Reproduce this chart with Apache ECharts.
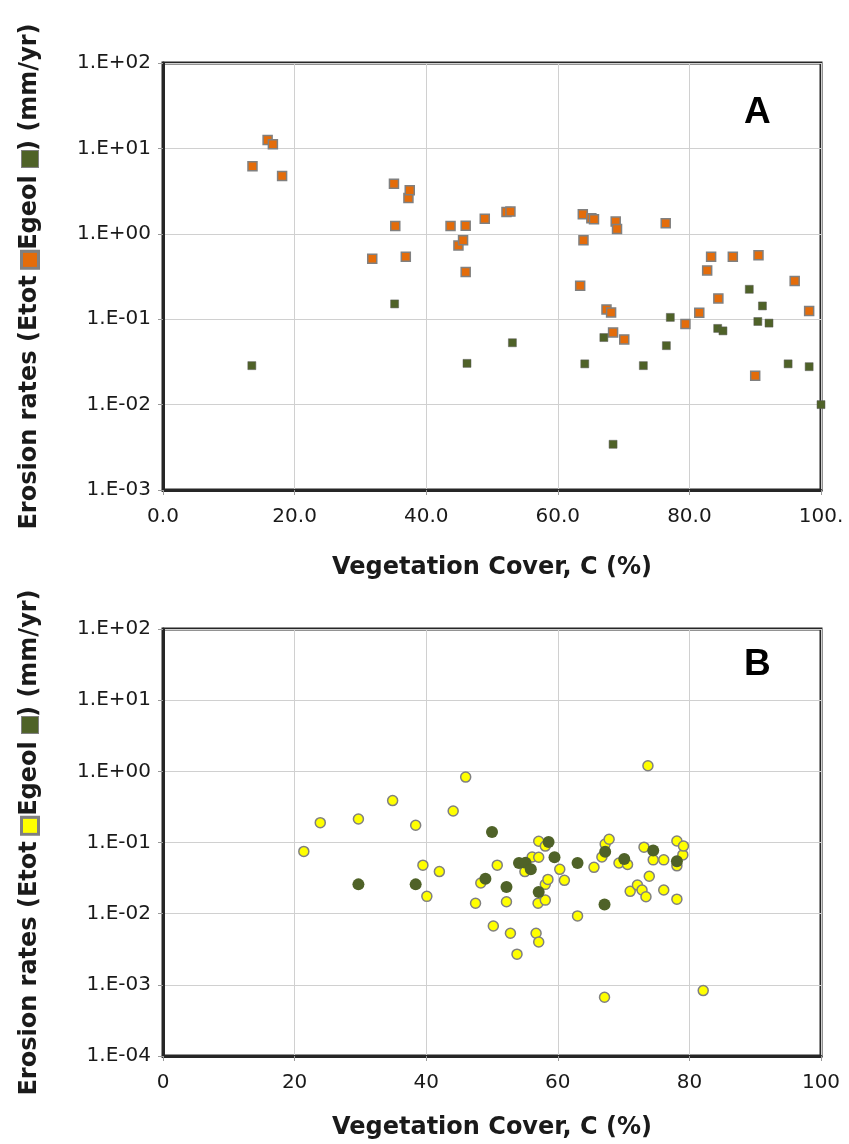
<!DOCTYPE html>
<html>
<head>
<meta charset="utf-8">
<script src="https://cdn.jsdelivr.net/npm/echarts@6/dist/echarts.min.js"></script>
<style>
    html, body { margin: 0; padding: 0; background: #fff; }
    #main { width: 849px; height: 1144px; }
</style>
</head>
<body>
<div id="main"></div>
<script>
// panel A : vegetation cover (%) vs erosion rate (mm/yr)
var etotA = [
    [13.6, 6.2], [15.9, 12.5], [16.7, 11.2], [18.1, 4.75], [31.8, 0.51], [35.1, 3.86],
    [35.3, 1.23], [36.9, 0.54], [37.3, 2.63], [37.5, 3.23], [43.7, 1.23], [44.9, 0.73],
    [45.6, 0.84], [46.0, 1.24], [46.0, 0.357], [48.9, 1.50], [52.2, 1.80], [52.8, 1.82],
    [63.4, 0.247], [63.8, 1.69], [63.9, 0.84], [65.1, 1.52], [65.5, 1.48], [67.4, 0.130],
    [68.1, 0.120], [68.4, 0.070], [68.8, 1.39], [69.0, 1.14], [70.1, 0.058], [76.4, 1.33],
    [79.4, 0.088], [81.5, 0.119], [82.7, 0.373], [83.3, 0.54], [84.4, 0.175], [86.6, 0.54],
    [90.0, 0.0218], [90.5, 0.56], [96.0, 0.28], [98.2, 0.125]
];
var egeolA = [
    [13.5, 0.0286], [35.2, 0.151], [46.2, 0.0304], [53.1, 0.053], [64.1, 0.030], [67.0, 0.061],
    [68.4, 0.00343], [73.0, 0.0286], [76.5, 0.049], [77.1, 0.105], [84.3, 0.078], [85.1, 0.073],
    [89.1, 0.224], [90.4, 0.094], [91.1, 0.143], [92.1, 0.090], [95.0, 0.030], [98.2, 0.0278],
    [100, 0.010]
];
// panel B
var etotB = [
    [21.4, 0.075], [23.9, 0.19], [29.7, 0.214], [34.9, 0.388], [38.4, 0.175], [39.5, 0.048],
    [40.1, 0.0175], [42.0, 0.039], [44.1, 0.277], [46.0, 0.83], [47.5, 0.014], [48.3, 0.027],
    [50.2, 0.0067], [50.8, 0.048], [52.2, 0.0147], [52.8, 0.0053], [53.8, 0.0027], [55.0, 0.039],
    [56.1, 0.0625], [56.7, 0.0053], [57.0, 0.014], [57.1, 0.104], [57.1, 0.062], [57.1, 0.0040],
    [58.1, 0.089], [58.1, 0.0258], [58.1, 0.0155], [58.5, 0.0303], [60.3, 0.042], [61.0, 0.0294],
    [63.0, 0.0093], [65.5, 0.0448], [66.7, 0.0625], [67.1, 0.00067], [67.2, 0.095], [67.8, 0.111],
    [69.3, 0.0515], [70.6, 0.049], [71.0, 0.0206], [72.1, 0.0252], [72.8, 0.0215], [73.1, 0.086],
    [73.4, 0.0173], [73.7, 1.2], [73.9, 0.0335], [74.5, 0.057], [76.1, 0.057], [76.1, 0.0215],
    [78.1, 0.105], [78.1, 0.047], [78.1, 0.016], [79.0, 0.067], [79.1, 0.089], [82.1, 0.00083]
];
var egeolB = [
    [29.7, 0.0258], [38.4, 0.0258], [49.0, 0.031], [50.0, 0.14], [52.2, 0.0237], [54.1, 0.0515],
    [55.1, 0.052], [55.9, 0.042], [57.1, 0.0201], [58.6, 0.102], [59.5, 0.062], [63.0, 0.0515],
    [67.1, 0.0135], [67.2, 0.074], [70.1, 0.0586], [74.5, 0.077], [78.1, 0.0545]
];
var xTicksA = ['0.0', '20.0', '40.0', '60.0', '80.0', '100.'];
var xTicksB = ['0', '20', '40', '60', '80', '100'];
var panelLetters = ['A', 'B'];

var FONT = 'DejaVu Sans';
var TXT = '#1a1a1a';
var ORANGE = '#E46C0A', GREEN = '#4F6228', YELLOW = '#FFFF00', EDGE = '#808080';

function expLabel(v) {
    var e = Math.round(Math.log10(v));
    var a = Math.abs(e);
    return '1.E' + (e < 0 ? '-' : '+') + (a < 10 ? '0' : '') + a;
}

function makeX(idx, ticks, gap) {
    return {
        gridIndex: idx, type: 'value', min: 0, max: 100, interval: 20,
        name: 'Vegetation Cover, C (%)', nameLocation: 'middle', nameGap: gap,
        nameTextStyle: { fontFamily: FONT, fontWeight: 'bold', fontSize: 24, color: TXT },
        axisLine: { show: true, onZero: false, lineStyle: { color: '#262626', width: 3 } },
        axisTick: { show: true, length: 5, lineStyle: { color: '#999' } },
        axisLabel: {
            fontFamily: FONT, fontSize: 20, color: TXT, margin: 17,
            formatter: function (v) { return ticks[Math.round(v / 20)]; }
        },
        splitLine: { show: true, lineStyle: { color: '#d0d0d0', width: 1 } }
    };
}

function makeY(idx, min, sq) {
    return {
        gridIndex: idx, type: 'log', logBase: 10, min: min, max: 100, interval: 1,
        name: 'Erosion rates (Etot {e| }{sp| }Egeol {g| }) (mm/yr)',
        nameLocation: 'middle', nameGap: 121,
        nameTextStyle: {
            fontFamily: FONT, fontWeight: 'bold', fontSize: 24, color: TXT,
            rich: {
                sp: { width: 3 },
                e: { width: 14, height: 14, backgroundColor: sq, borderColor: EDGE, borderWidth: 3 },
                g: { width: 16, height: 16, backgroundColor: GREEN, borderColor: EDGE, borderWidth: 1 }
            }
        },
        axisLine: { show: true, lineStyle: { color: '#262626', width: 3 } },
        axisTick: { show: true, length: 5, lineStyle: { color: '#999' } },
        minorTick: { show: false },
        axisLabel: { fontFamily: FONT, fontSize: 20, color: TXT, margin: 12, formatter: expLabel },
        splitLine: { show: true, lineStyle: { color: '#d0d0d0', width: 1 } }
    };
}

function scatter(idx, data, symbol, size, fill, border, bw) {
    return {
        type: 'scatter', xAxisIndex: idx, yAxisIndex: idx, data: data,
        symbol: symbol, symbolSize: size, silent: true,
        itemStyle: { color: fill, borderColor: border, borderWidth: bw, opacity: 1 }
    };
}

var chart = echarts.init(document.getElementById('main'));
chart.setOption({
    animation: false,
    backgroundColor: '#fff',
    grid: [
        { left: 163, top: 63, width: 658, height: 427, show: true, borderColor: '#262626', borderWidth: 3, backgroundColor: 'transparent' },
        { left: 163, top: 629, width: 658, height: 427, show: true, borderColor: '#262626', borderWidth: 3, backgroundColor: 'transparent' }
    ],
    xAxis: [makeX(0, xTicksA, 66), makeX(1, xTicksB, 60)],
    yAxis: [makeY(0, 0.001, ORANGE), makeY(1, 0.0001, YELLOW)],
    series: [
        scatter(0, etotA, 'rect', 9, ORANGE, EDGE, 1.5),
        scatter(0, egeolA, 'rect', 8, GREEN, '#5a5a5a', 0.5),
        scatter(1, etotB, 'circle', 10, YELLOW, EDGE, 1.5),
        scatter(1, egeolB, 'circle', 12, GREEN, GREEN, 0)
    ],
    graphic: [
        { type: 'text', left: 744, top: 94, style: { text: panelLetters[0], font: 'bold 37px "Liberation Sans"', fill: '#000' } },
        { type: 'text', left: 744, top: 646, style: { text: panelLetters[1], font: 'bold 37px "Liberation Sans"', fill: '#000' } }
    ]
});
</script>
</body>
</html>
